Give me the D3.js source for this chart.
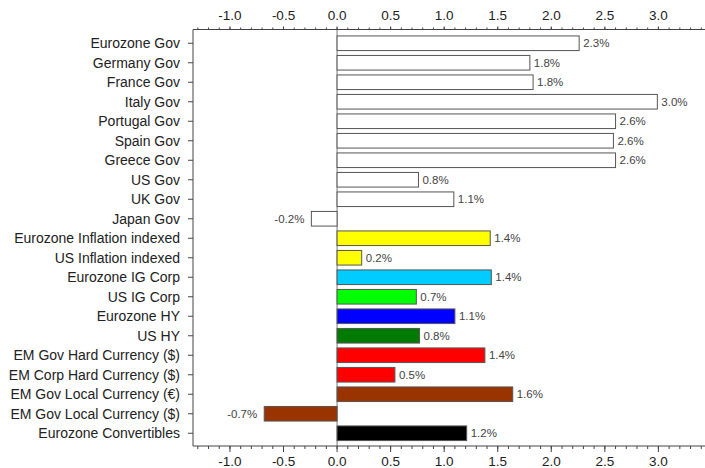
<!DOCTYPE html>
<html>
<head>
<meta charset="utf-8">
<script src="https://cdn.jsdelivr.net/npm/d3@7"></script>
<style>
  body { margin: 0; background: #fff; }
  text { font-family: "Liberation Sans", Arial, sans-serif; }
</style>
</head>
<body>
<script>
// Data
var categories = [
    "Eurozone Gov", "Germany Gov", "France Gov", "Italy Gov",
    "Portugal Gov", "Spain Gov", "Greece Gov", "US Gov", "UK Gov",
    "Japan Gov", "Eurozone Inflation indexed", "US Inflation indexed",
    "Eurozone IG Corp", "US IG Corp", "Eurozone HY", "US HY",
    "EM Gov Hard Currency ($)", "EM Corp Hard Currency ($)",
    "EM Gov Local Currency (\u20ac)", "EM Gov Local Currency ($)",
    "Eurozone Convertibles"
];
var values = [
    2.26, 1.80, 1.83, 2.99, 2.60, 2.58, 2.60, 0.76, 1.09, -0.24,
    1.43, 0.23, 1.44, 0.74, 1.10, 0.77, 1.38, 0.54, 1.64, -0.68, 1.21
];
var colors = [
    "#ffffff", "#ffffff", "#ffffff", "#ffffff", "#ffffff", "#ffffff",
    "#ffffff", "#ffffff", "#ffffff", "#ffffff", "#ffff00", "#ffff00",
    "#00ccff", "#00ff00", "#0000ff", "#007a00", "#ff0000", "#ff0000",
    "#993300", "#993300", "#000000"
];
var tickValues = [-1.0, -0.5, 0.0, 0.5, 1.0, 1.5, 2.0, 2.5, 3.0];

var width = 705, height = 468;
var plotLeft = 193, plotRight = 705, plotTop = 29.5, plotBottom = 446;

var svg = d3.select("body").append("svg")
    .attr("width", width)
    .attr("height", height);

var x = d3.scaleLinear()
    .domain([-1.345, 3.435])
    .range([plotLeft, plotRight]);

var y = d3.scaleBand()
    .domain(categories)
    .range([33.5, 443])
    .paddingInner(0.25)
    .paddingOuter(0.125);

var minorTicks = d3.range(-13, 35).map(function(d) { return d / 10; });

//Zero line
svg.append("line")
    .attr("x1", x(0)).attr("x2", x(0))
    .attr("y1", plotTop).attr("y2", plotBottom)
    .attr("stroke", "#777")
    .attr("stroke-width", 1);

//Bars
var data = categories.map(function(c, i) {
    return {name: c, value: values[i], color: colors[i]};
});

svg.selectAll("rect.bar")
    .data(data)
    .enter().append("rect")
    .attr("class", "bar")
    .attr("x", function(d) { return x(Math.min(0, d.value)); })
    .attr("y", function(d) { return y(d.name); })
    .attr("width", function(d) { return Math.abs(x(d.value) - x(0)); })
    .attr("height", y.bandwidth())
    .attr("fill", function(d) { return d.color; })
    .attr("stroke", "#555")
    .attr("stroke-width", 1);

//Value labels
svg.selectAll("text.val")
    .data(data)
    .enter().append("text")
    .attr("class", "val")
    .attr("x", function(d) {
        return d.value >= 0 ? x(d.value) + 4 : x(d.value) - 7;
    })
    .attr("y", function(d) { return y(d.name) + y.bandwidth() / 2; })
    .attr("dy", "0.35em")
    .attr("text-anchor", function(d) { return d.value >= 0 ? "start" : "end"; })
    .attr("font-size", "11.5px")
    .attr("fill", "#444")
    .text(function(d) { return d.value.toFixed(1) + "%"; });

//Top and bottom axes
function drawAxis(yPos, dir, labelY) {
    var g = svg.append("g");
    g.append("line")
        .attr("x1", plotLeft).attr("x2", plotRight)
        .attr("y1", yPos).attr("y2", yPos)
        .attr("stroke", "#444");
    var major = dir < 0 ? 3 : 6, minor = dir < 0 ? 2 : 3;
    g.selectAll("line.minor")
        .data(minorTicks)
        .enter().append("line")
        .attr("x1", function(d) { return x(d); })
        .attr("x2", function(d) { return x(d); })
        .attr("y1", yPos)
        .attr("y2", yPos + dir * minor)
        .attr("stroke", "#444");
    g.selectAll("line.major")
        .data(tickValues)
        .enter().append("line")
        .attr("x1", function(d) { return x(d); })
        .attr("x2", function(d) { return x(d); })
        .attr("y1", yPos)
        .attr("y2", yPos + dir * major)
        .attr("stroke", "#444");
    g.selectAll("text")
        .data(tickValues)
        .enter().append("text")
        .attr("x", function(d) { return x(d); })
        .attr("y", labelY)
        .attr("text-anchor", "middle")
        .attr("font-size", "13.5px")
        .attr("fill", "#222")
        .text(function(d) { return d.toFixed(1); });
}
drawAxis(plotTop, -1, 20);
drawAxis(plotBottom, 1, 466);

//Left category axis
svg.append("line")
    .attr("x1", plotLeft).attr("x2", plotLeft)
    .attr("y1", plotTop).attr("y2", plotBottom)
    .attr("stroke", "#444");

svg.selectAll("line.cat")
    .data(categories)
    .enter().append("line")
    .attr("x1", plotLeft - 5).attr("x2", plotLeft)
    .attr("y1", function(d) { return y(d) + y.bandwidth() / 2; })
    .attr("y2", function(d) { return y(d) + y.bandwidth() / 2; })
    .attr("stroke", "#444");

svg.selectAll("text.cat")
    .data(categories)
    .enter().append("text")
    .attr("class", "cat")
    .attr("x", plotLeft - 13)
    .attr("y", function(d) { return y(d) + y.bandwidth() / 2; })
    .attr("dy", "0.35em")
    .attr("text-anchor", "end")
    .attr("font-size", "14px")
    .attr("fill", "#222")
    .text(function(d) { return d; });
</script>
</body>
</html>
